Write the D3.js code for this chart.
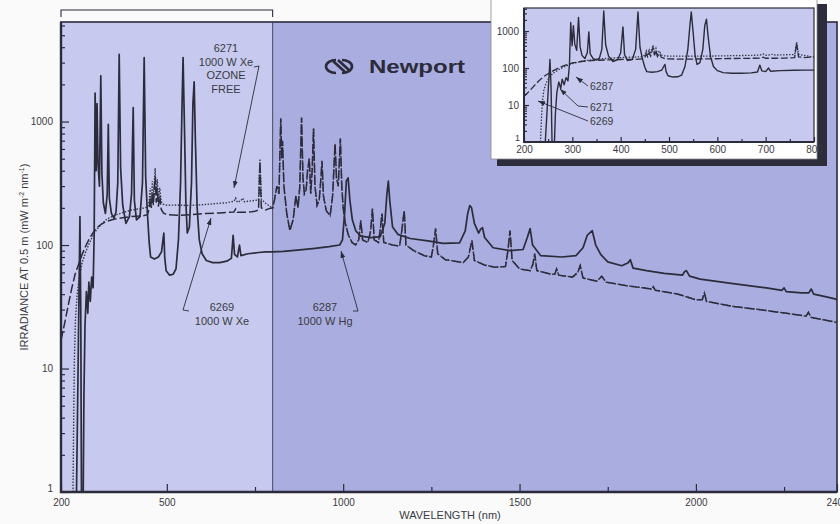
<!DOCTYPE html>
<html>
<head>
<meta charset="utf-8">
<script src="https://cdn.jsdelivr.net/npm/d3@7"></script>
<style>
  body { margin: 0; background: #fafafa; }
  svg { display: block; font-family: "Liberation Sans", Arial, sans-serif; }
</style>
</head>
<body>
<div id="vis"></div>
<script>
// lamp spectra: [wavelength (nm), irradiance at 0.5 m]
var hg6287 = [
  [244,1],[248,8],[251,40],[253.7,170],[256,30],[258,1],[263,1],[265,6],[268,22],[272,42],
  [276,28],[279,50],[283,35],[287,55],[291,45],[294,120],[296.7,1700],[299.5,400],[302.2,1400],
  [305,450],[309,300],[312.8,2350],[316,380],[320,220],[326,180],[331,260],[334.1,950],[337,240],
  [343,180],[350,165],[356,185],[361,320],[365,3500],[369,420],[375,210],[384,150],[394,170],
  [400,260],[404.7,1300],[408,230],[414,160],[424,170],[431,320],[435.8,3300],[440,360],[445,180],
  [450,105],[454,80],[465,77],[476,80],[485,88],[489,110],[491.6,125],[494,80],[498,62],[508,57],
  [518,58],[526,64],[533,110],[539,320],[543,1300],[546.1,3300],[550,900],[554,220],[558,125],
  [564,140],[570,320],[574,1400],[577.5,2100],[581,700],[586,200],[592,110],[600,85],[612,75],
  [630,72],[650,72],[670,74],[683,78],[688,120],[692,84],[700,80],[706,100],[710,82],[730,85],
  [760,87],[780,88],[800,88],[830,89],[870,91],[920,94],[960,97],[990,100],[998,110],[1004,180],
  [1009,330],[1014,350],[1019,230],[1026,160],[1036,130],[1050,118],[1080,115],[1105,117],
  [1118,150],[1124,260],[1128,330],[1132,230],[1140,140],[1155,122],[1190,113],[1240,108],
  [1283,103],[1330,104],[1346,130],[1353,180],[1359,209],[1364,200],[1372,150],[1384,125],
  [1390,135],[1395,138],[1401,115],[1425,95],[1473,90],[1510,92],[1522,115],[1530,136],[1537,100],
  [1560,82],[1620,80],[1660,82],[1680,95],[1692,120],[1706,131],[1716,100],[1730,84],[1750,73],
  [1790,68],[1808,72],[1814,76],[1822,65],[1860,62],[1910,59],[1962,57],[1968,61],[1973,62],
  [1982,56],[2012,53],[2100,49],[2200,45],[2244,43],[2250,45],[2256,42],[2300,41],[2320,41],
  [2327,44],[2334,40],[2370,38],[2404,36]
];

var xe6269UV = [
  [200,17],[210,23],[220,32],[230,44],[240,58],[250,70],[260,84],[270,98],[280,112],[290,125],
  [300,137],[315,148],[330,156],[350,162],[375,166],[400,170],[430,172],[445,176],[450,195],
  [453,240],[456,200],[459,260],[462,210],[467,360],[470,220],[473,290],[476,205],[480,250],
  [484,195],[490,182],[500,176],[530,174],[570,176],[610,180],[650,182],[690,185],[695,196],
  [700,184],[720,184],[740,186],[750,188],[760,192],[764,470],[768,200],[780,192],[792,198],[800,200]
];

var xe6271UV = [
  [234,1],[236,4],[238,12],[241,25],[246,40],[252,55],[260,72],[270,88],[280,103],[290,118],
  [300,132],[315,148],[330,162],[350,173],[375,183],[400,192],[430,198],[445,203],[450,225],
  [453,290],[456,215],[459,330],[462,240],[467,420],[470,255],[473,340],[476,235],[480,290],
  [484,225],[490,214],[500,210],[530,211],[560,209],[600,212],[640,217],[670,220],[690,226],
  [695,240],[700,222],[710,228],[715,240],[720,224],[740,228],[760,232],[764,500],[768,235],
  [780,218],[792,206],[800,200]
];

// past 800 nm both xenon lamps run on top of each other
var xeIR = [
  [805,230],[812,300],[818,260],[823,1060],[826,500],[828,700],[832,300],[840,180],[849,131],
  [858,160],[866,250],[872,200],[877,300],[882,1080],[886,350],[890,260],[895,280],[899,400],
  [904,500],[908,260],[912,400],[916,880],[920,300],[926,210],[932,230],[937,350],[940,480],
  [944,250],[952,190],[963,173],[970,250],[977,660],[981,350],[986,300],[992,730],[996,300],
  [1000,200],[1006,150],[1015,120],[1025,105],[1035,100],[1044,110],[1050,158],[1055,110],
  [1070,105],[1078,130],[1083,197],[1088,110],[1100,105],[1106,140],[1110,180],[1115,105],
  [1140,100],[1160,98],[1166,130],[1173,190],[1178,100],[1200,90],[1230,82],[1250,80],[1256,100],
  [1262,136],[1268,85],[1290,76],[1340,72],[1355,80],[1365,109],[1372,75],[1400,69],[1430,66],
  [1460,67],[1467,90],[1473,131],[1479,75],[1500,64],[1530,62],[1538,70],[1543,85],[1549,62],
  [1590,58],[1600,58],[1605,64],[1611,57],[1650,55],[1665,60],[1672,68],[1680,54],[1720,51],
  [1733,56],[1745,50],[1800,47],[1850,45],[1874,44],[1879,46],[1885,43],[1950,40],[2000,36],
  [2018,36],[2024,41],[2030,35],[2100,32],[2200,29.5],[2296,27],[2312,26.5],[2319,28.5],
  [2326,26],[2404,23.5]
];

var xe6269 = xe6269UV.concat(xeIR);
var xe6271 = xe6271UV.concat(xeIR);

var xTicks = [200, 500, 1000, 1500, 2000, 2400];
var xMinorTicks = [750, 1250, 1750, 2250];
var yTicks = [1, 10, 100, 1000];
var insetXTicks = [200, 300, 400, 500, 600, 700, 800];
var insetXMinor = [250, 350, 450, 550, 650, 750];
var insetYTicks = [1, 10, 100, 1000];

var width = 840, height = 524;
var ink = '#2b2b3b';
var light = '#c7caee', dark = '#aaaddf';

var x = d3.scaleLinear().domain([200, 2400]).range([61, 837]);
var y = d3.scaleLog().domain([1, 6400]).range([492, 22]);

var svg = d3.select('#vis').append('svg')
  .attr('width', width)
  .attr('height', height);

var defs = svg.append('defs');
defs.append('clipPath').attr('id', 'mainClip')
  .append('rect').attr('x', 61).attr('y', 22).attr('width', 776).attr('height', 470);
defs.append('clipPath').attr('id', 'insetClip')
  .append('rect').attr('x', 524).attr('y', 8).attr('width', 290).attr('height', 134);
defs.append('marker')
  .attr('id', 'arrow')
  .attr('viewBox', '0 0 10 10')
  .attr('refX', 10).attr('refY', 5)
  .attr('markerUnits', 'userSpaceOnUse')
  .attr('markerWidth', 7).attr('markerHeight', 7)
  .attr('orient', 'auto')
  .append('path')
  .attr('d', 'M0,1.5 L10,5 L0,8.5 Z')
  .attr('fill', ink);

// two shaded panels, 200-800 nm is the lighter one
svg.append('rect')
  .attr('x', x(200)).attr('y', 22)
  .attr('width', x(800) - x(200)).attr('height', 470)
  .attr('fill', light);
svg.append('rect')
  .attr('x', x(800)).attr('y', 22)
  .attr('width', x(2400) - x(800)).attr('height', 470)
  .attr('fill', dark);
svg.append('line')
  .attr('x1', x(800)).attr('x2', x(800)).attr('y1', 22).attr('y2', 492)
  .attr('stroke', ink).attr('stroke-width', 0.8);

// bracket over the expanded region
svg.append('path')
  .attr('d', 'M' + x(200) + ',17V10H' + x(800) + 'V17')
  .attr('fill', 'none').attr('stroke', ink).attr('stroke-width', 1.1);

// logo
var logo = svg.append('g').attr('fill', 'none').attr('stroke', ink).attr('stroke-width', 2.6);
logo.append('path').attr('d', 'M336,60 A10,6.5 0 1,0 336,73');
logo.append('path').attr('d', 'M342,60 A10,6.5 0 1,1 342,73');
logo.append('path').attr('d', 'M333,61 L345,72 M338,60 L350,71');
svg.append('text')
  .attr('x', 369).attr('y', 73)
  .attr('font-size', 19).attr('font-weight', 600)
  .attr('textLength', 96).attr('lengthAdjust', 'spacingAndGlyphs')
  .attr('fill', ink)
  .text('Newport');

function drawSeries(g, xs, ys) {
  var line = d3.line()
    .x(function(d) { return xs(d[0]); })
    .y(function(d) { return ys(d[1]); });

  g.append('path').datum(xe6271)
    .attr('fill', 'none').attr('stroke', '#3a3a4c')
    .attr('stroke-width', 1.4)
    .attr('stroke-dasharray', '1.5,1.5')
    .attr('d', line);
  g.append('path').datum(xe6269)
    .attr('fill', 'none').attr('stroke', ink)
    .attr('stroke-width', 1.5)
    .attr('stroke-dasharray', '9,3')
    .attr('d', line);
  g.append('path').datum(hg6287)
    .attr('fill', 'none').attr('stroke', ink)
    .attr('stroke-width', 1.7)
    .attr('stroke-linejoin', 'round')
    .attr('d', line);
}

var plotG = svg.append('g').attr('clip-path', 'url(#mainClip)');
drawSeries(plotG, x, y);

// axes, ticks point inwards
var axisFont = function(sel, size) {
  sel.select('.domain').remove();
  sel.selectAll('line').attr('stroke', ink).attr('stroke-width', 1.2);
  sel.selectAll('text').attr('font-size', size).attr('fill', '#3a3a44')
    .attr('font-family', '"Liberation Sans", Arial, sans-serif');
};

svg.append('g')
  .attr('transform', 'translate(0,492)')
  .call(d3.axisBottom(x).tickValues(xTicks).tickSize(-8).tickPadding(7).tickFormat(d3.format('d')))
  .call(axisFont, 10);
svg.append('g')
  .attr('transform', 'translate(0,492)')
  .call(d3.axisBottom(x).tickValues(xMinorTicks).tickSize(-5).tickFormat(''))
  .call(axisFont, 10);
var yAxisG = svg.append('g')
  .attr('transform', 'translate(61,0)')
  .call(d3.axisLeft(y).tickValues(yTicks).tickSize(-8).tickPadding(8).tickFormat(d3.format('d')))
  .call(axisFont, 10);
// the "1" sits a little above the corner
yAxisG.selectAll('.tick text').filter(function(d) { return d === 1; }).attr('dy', '-0.1em');
svg.append('g')
  .attr('transform', 'translate(61,0)')
  .call(d3.axisLeft(y).tickValues(y.ticks().filter(function(t) { return yTicks.indexOf(t) < 0; }))
    .tickSize(-4).tickFormat(''))
  .call(axisFont, 10);

// frame
svg.append('rect')
  .attr('x', 61).attr('y', 22).attr('width', 776).attr('height', 470)
  .attr('fill', 'none').attr('stroke', ink).attr('stroke-width', 1.6);
svg.append('path')
  .attr('d', 'M61,22V492H837')
  .attr('fill', 'none').attr('stroke', ink).attr('stroke-width', 2.4);

// axis titles
var yTitle = svg.append('text')
  .attr('transform', 'translate(28,257) rotate(-90)')
  .attr('text-anchor', 'middle')
  .attr('font-size', 11).attr('fill', '#3a3a44');
yTitle.append('tspan').text('IRRADIANCE AT 0.5 m (mW m');
yTitle.append('tspan').attr('font-size', 7).attr('dy', -4).text('-2');
yTitle.append('tspan').attr('dy', 4).text(' nm');
yTitle.append('tspan').attr('font-size', 7).attr('dy', -4).text('-1');
yTitle.append('tspan').attr('dy', 4).text(')');

svg.append('text')
  .attr('x', 450).attr('y', 519)
  .attr('text-anchor', 'middle')
  .attr('font-size', 11).attr('fill', '#3a3a44')
  .text('WAVELENGTH (nm)');

// callouts on the main plot
function callout(lines, cx, cy, pts) {
  var t = svg.append('text')
    .attr('text-anchor', 'middle')
    .attr('font-size', 11).attr('fill', '#3a3a44');
  lines.forEach(function(s, i) {
    t.append('tspan').attr('x', cx).attr('y', cy + i * 13.5).text(s);
  });
  svg.append('path')
    .attr('d', d3.line()(pts))
    .attr('fill', 'none').attr('stroke', ink).attr('stroke-width', 0.9)
    .attr('marker-end', 'url(#arrow)');
}

callout(['6271', '1000 W Xe', 'OZONE', 'FREE'], 226, 52, [[254, 67], [259, 66], [234, 188]]);
callout(['6269', '1000 W Xe'], 222, 311, [[189, 311], [183, 310], [211, 218]]);
callout(['6287', '1000 W Hg'], 325, 311, [[353, 311], [358, 311], [341, 251]]);

// inset, 200-800 nm on its own white card
var ix = d3.scaleLinear().domain([200, 800]).range([524, 814]);
var iy = d3.scaleLog().domain([1, 4200]).range([142, 8]);

svg.append('rect').attr('x', 817).attr('y', 4).attr('width', 10).attr('height', 162).attr('fill', '#2c2c3a');
svg.append('rect').attr('x', 497).attr('y', 159).attr('width', 330).attr('height', 7).attr('fill', '#2c2c3a');
svg.append('rect')
  .attr('x', 491).attr('y', -4).attr('width', 326).attr('height', 163)
  .attr('fill', '#ffffff').attr('stroke', '#8a8a96').attr('stroke-width', 0.8);
svg.append('rect')
  .attr('x', 524).attr('y', 8).attr('width', 290).attr('height', 134)
  .attr('fill', light);

var insetG = svg.append('g').attr('clip-path', 'url(#insetClip)');
var uvOnly = function(s) { return s.filter(function(d) { return d[0] <= 800; }); };
var inLine = d3.line()
  .x(function(d) { return ix(d[0]); })
  .y(function(d) { return iy(d[1]); });
insetG.append('path').datum(uvOnly(xe6271))
  .attr('fill', 'none').attr('stroke', '#3a3a4c').attr('stroke-width', 1.3)
  .attr('stroke-dasharray', '1.5,1.5').attr('d', inLine);
insetG.append('path').datum(uvOnly(xe6269))
  .attr('fill', 'none').attr('stroke', ink).attr('stroke-width', 1.3)
  .attr('stroke-dasharray', '7,2.5').attr('d', inLine);
insetG.append('path').datum(uvOnly(hg6287))
  .attr('fill', 'none').attr('stroke', ink).attr('stroke-width', 1.4)
  .attr('stroke-linejoin', 'round').attr('d', inLine);

svg.append('g')
  .attr('transform', 'translate(0,142)')
  .call(d3.axisBottom(ix).tickValues(insetXTicks).tickSize(-5).tickPadding(4).tickFormat(d3.format('d')))
  .call(axisFont, 10);
svg.append('g')
  .attr('transform', 'translate(0,142)')
  .call(d3.axisBottom(ix).tickValues(insetXMinor).tickSize(-3).tickFormat(''))
  .call(axisFont, 10);
var insetYG = svg.append('g')
  .attr('transform', 'translate(524,0)')
  .call(d3.axisLeft(iy).tickValues(insetYTicks).tickSize(-5).tickPadding(5).tickFormat(d3.format('d')))
  .call(axisFont, 10);
insetYG.selectAll('.tick text').filter(function(d) { return d === 1; })
  .attr('dy', '-0.2em').attr('x', -4).attr('font-size', 9);
svg.append('g')
  .attr('transform', 'translate(524,0)')
  .call(d3.axisLeft(iy).tickValues(iy.ticks().filter(function(t) { return insetYTicks.indexOf(t) < 0; }))
    .tickSize(-3).tickFormat(''))
  .call(axisFont, 10);
svg.append('rect')
  .attr('x', 524).attr('y', 8).attr('width', 290).attr('height', 134)
  .attr('fill', 'none').attr('stroke', ink).attr('stroke-width', 1.2);
svg.append('path')
  .attr('d', 'M524,8V142H814')
  .attr('fill', 'none').attr('stroke', ink).attr('stroke-width', 2);

// inset callouts
var insetLabels = [
  { text: '6287', y: 90, pts: [[588, 86], [576, 77]] },
  { text: '6271', y: 111, pts: [[588, 107], [578, 106], [560, 89]] },
  { text: '6269', y: 125, pts: [[588, 121], [538, 101]] }
];
insetLabels.forEach(function(l) {
  svg.append('text')
    .attr('x', 590).attr('y', l.y)
    .attr('font-size', 10.5).attr('fill', '#3a3a44')
    .text(l.text);
  svg.append('path')
    .attr('d', d3.line()(l.pts))
    .attr('fill', 'none').attr('stroke', ink).attr('stroke-width', 0.9)
    .attr('marker-end', 'url(#arrow)');
});
</script>
</body>
</html>
